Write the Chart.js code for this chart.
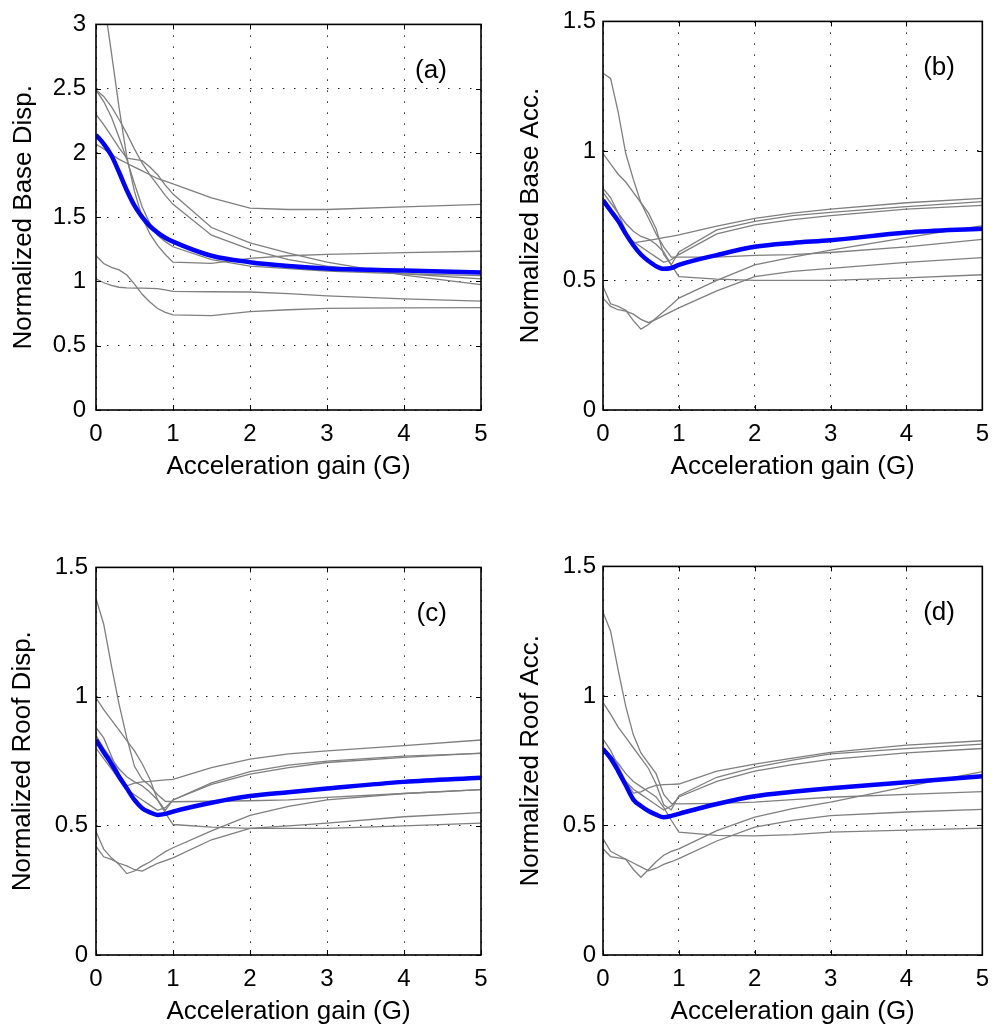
<!DOCTYPE html>
<html>
<head>
<meta charset="utf-8">
<script src="https://cdn.jsdelivr.net/npm/chart.js@4.4.1/dist/chart.umd.min.js"></script>
<style>
  html, body { margin:0; padding:0; background:#fff; }
  body { width:999px; height:1030px; position:relative; overflow:hidden; }
  canvas { position:absolute; }
</style>
</head>
<body>
<canvas id="chartA" width="500" height="500" style="left:0px;top:0px"></canvas>
<canvas id="chartB" width="494" height="500" style="left:505px;top:0px"></canvas>
<canvas id="chartC" width="500" height="485" style="left:0px;top:545px"></canvas>
<canvas id="chartD" width="494" height="485" style="left:505px;top:545px"></canvas>
<script>
// acceleration gain G (x axis, shared by all panels)
const gain = [0, 0.1, 0.2, 0.3, 0.4, 0.5, 0.6, 0.7, 0.8, 0.9, 1, 1.5, 2, 2.5, 3, 4, 5];
const xTicks = [0, 1, 2, 3, 4, 5];

// (a) normalized base displacement
const baseDispMean = [2.14, 2.07, 1.98, 1.85, 1.71, 1.59, 1.50, 1.43, 1.38, 1.34, 1.31, 1.20, 1.15, 1.12, 1.10, 1.085, 1.07];
const baseDispRuns = [
  [3.60, 3.20, 2.78, 2.35, 1.97, 1.70, 1.50, 1.37, 1.28, 1.21, 1.15, 1.14, 1.18, 1.20, 1.21, 1.225, 1.235],
  [2.07, 2.03, 1.99, 1.95, 1.92, 1.89, 1.86, 1.83, 1.80, 1.78, 1.76, 1.65, 1.57, 1.56, 1.56, 1.58, 1.60],
  [2.30, 2.22, 2.13, 2.04, 1.96, 1.95, 1.94, 1.89, 1.83, 1.75, 1.68, 1.42, 1.30, 1.22, 1.15, 1.05, 0.975],
  [2.49, 2.44, 2.36, 2.26, 2.15, 2.03, 1.92, 1.83, 1.75, 1.67, 1.60, 1.36, 1.25, 1.17, 1.12, 1.06, 1.02],
  [2.49, 2.40, 2.28, 2.12, 1.95, 1.76, 1.58, 1.45, 1.36, 1.31, 1.27, 1.17, 1.12, 1.10, 1.08, 1.06, 1.045],
  [1.20, 1.14, 1.11, 1.09, 1.05, 0.98, 0.90, 0.84, 0.79, 0.76, 0.74, 0.735, 0.765, 0.78, 0.79, 0.795, 0.796],
  [1.02, 0.99, 0.97, 0.955, 0.95, 0.948, 0.948, 0.946, 0.944, 0.935, 0.923, 0.92, 0.918, 0.905, 0.888, 0.865, 0.847]
];

// (b) normalized base acceleration
const baseAccMean = [0.81, 0.77, 0.73, 0.68, 0.636, 0.60, 0.575, 0.555, 0.545, 0.548, 0.56, 0.598, 0.63, 0.645, 0.655, 0.685, 0.70];
const baseAccRuns = [
  [1.30, 1.28, 1.15, 0.99, 0.89, 0.80, 0.74, 0.68, 0.63, 0.59, 0.59, 0.59, 0.597, 0.60, 0.608, 0.63, 0.659],
  [0.99, 0.95, 0.91, 0.88, 0.84, 0.80, 0.76, 0.70, 0.60, 0.56, 0.61, 0.695, 0.728, 0.75, 0.763, 0.785, 0.804],
  [0.855, 0.82, 0.76, 0.69, 0.645, 0.65, 0.655, 0.66, 0.665, 0.67, 0.676, 0.71, 0.74, 0.76, 0.775, 0.80, 0.817],
  [0.84, 0.80, 0.76, 0.72, 0.69, 0.67, 0.66, 0.64, 0.61, 0.56, 0.515, 0.505, 0.50, 0.50, 0.50, 0.51, 0.522],
  [0.80, 0.76, 0.72, 0.68, 0.65, 0.63, 0.61, 0.59, 0.57, 0.58, 0.60, 0.68, 0.715, 0.735, 0.75, 0.775, 0.79],
  [0.477, 0.41, 0.40, 0.385, 0.345, 0.312, 0.33, 0.355, 0.38, 0.405, 0.432, 0.50, 0.56, 0.59, 0.617, 0.665, 0.712],
  [0.432, 0.40, 0.387, 0.382, 0.37, 0.35, 0.337, 0.35, 0.365, 0.38, 0.394, 0.46, 0.515, 0.535, 0.547, 0.57, 0.588]
];

// (c) normalized roof displacement
const roofDispMean = [0.832, 0.785, 0.74, 0.69, 0.645, 0.60, 0.568, 0.552, 0.542, 0.546, 0.555, 0.589, 0.615, 0.63, 0.644, 0.67, 0.686];
const roofDispRuns = [
  [1.38, 1.28, 1.12, 0.97, 0.84, 0.73, 0.68, 0.655, 0.62, 0.595, 0.593, 0.595, 0.597, 0.60, 0.61, 0.625, 0.64],
  [0.995, 0.95, 0.91, 0.87, 0.83, 0.79, 0.74, 0.68, 0.60, 0.56, 0.60, 0.666, 0.71, 0.735, 0.75, 0.77, 0.78],
  [0.88, 0.84, 0.77, 0.70, 0.655, 0.665, 0.67, 0.672, 0.675, 0.678, 0.68, 0.725, 0.758, 0.778, 0.79, 0.81, 0.832],
  [0.85, 0.80, 0.76, 0.72, 0.69, 0.67, 0.655, 0.63, 0.60, 0.55, 0.505, 0.495, 0.49, 0.49, 0.49, 0.50, 0.51],
  [0.80, 0.76, 0.72, 0.68, 0.64, 0.62, 0.60, 0.58, 0.56, 0.57, 0.60, 0.66, 0.70, 0.725, 0.745, 0.765, 0.781],
  [0.478, 0.41, 0.376, 0.35, 0.315, 0.325, 0.345, 0.36, 0.38, 0.40, 0.415, 0.48, 0.54, 0.575, 0.60, 0.625, 0.64],
  [0.42, 0.38, 0.37, 0.355, 0.345, 0.33, 0.325, 0.34, 0.355, 0.365, 0.376, 0.446, 0.49, 0.50, 0.51, 0.535, 0.551]
];

// (d) normalized roof acceleration
const roofAccMean = [0.795, 0.76, 0.71, 0.655, 0.60, 0.575, 0.556, 0.542, 0.532, 0.537, 0.545, 0.583, 0.613, 0.63, 0.644, 0.667, 0.69];
const roofAccRuns = [
  [1.323, 1.25, 1.10, 0.96, 0.85, 0.78, 0.74, 0.70, 0.62, 0.585, 0.583, 0.585, 0.59, 0.60, 0.609, 0.62, 0.631],
  [0.974, 0.93, 0.88, 0.84, 0.80, 0.76, 0.72, 0.66, 0.58, 0.56, 0.615, 0.686, 0.724, 0.752, 0.776, 0.797, 0.814],
  [0.833, 0.79, 0.73, 0.67, 0.625, 0.63, 0.645, 0.655, 0.658, 0.659, 0.66, 0.71, 0.737, 0.76, 0.782, 0.81, 0.827],
  [0.80, 0.77, 0.74, 0.70, 0.67, 0.65, 0.63, 0.61, 0.57, 0.52, 0.474, 0.462, 0.46, 0.465, 0.474, 0.482, 0.49],
  [0.79, 0.75, 0.71, 0.67, 0.64, 0.62, 0.60, 0.58, 0.56, 0.575, 0.61, 0.67, 0.71, 0.735, 0.755, 0.78, 0.797],
  [0.449, 0.40, 0.385, 0.37, 0.33, 0.30, 0.33, 0.36, 0.385, 0.40, 0.41, 0.48, 0.532, 0.565, 0.59, 0.65, 0.708],
  [0.41, 0.38, 0.375, 0.37, 0.355, 0.34, 0.325, 0.335, 0.35, 0.36, 0.372, 0.44, 0.494, 0.52, 0.538, 0.552, 0.562]
];

const FONT = '"Liberation Sans", Arial, Helvetica, sans-serif';
Chart.defaults.font.family = FONT;
Chart.defaults.color = '#000';

// matlab-ish box: frame, inward ticks, panel tag
const framePlugin = {
  id: 'frame',
  afterDraw(chart, args, opts) {
    const { ctx, chartArea: a, scales: { x, y } } = chart;
    const len = 5;
    ctx.save();
    ctx.strokeStyle = '#000';
    ctx.lineWidth = 1;
    ctx.beginPath();
    x.ticks.forEach(t => {
      const px = Math.round(x.getPixelForValue(t.value)) + 0.5;
      ctx.moveTo(px, a.bottom); ctx.lineTo(px, a.bottom - len);
      ctx.moveTo(px, a.top);    ctx.lineTo(px, a.top + len);
    });
    y.ticks.forEach(t => {
      const py = Math.round(y.getPixelForValue(t.value)) + 0.5;
      ctx.moveTo(a.left, py);  ctx.lineTo(a.left + len, py);
      ctx.moveTo(a.right, py); ctx.lineTo(a.right - len, py);
    });
    ctx.stroke();
    ctx.lineWidth = 1.6;
    ctx.strokeRect(a.left, a.top, a.right - a.left, a.bottom - a.top);
    ctx.fillStyle = '#000';
    ctx.font = '26px ' + FONT;
    ctx.textAlign = 'center';
    ctx.textBaseline = 'middle';
    ctx.fillText(opts.tag, x.getPixelForValue(opts.tagX), a.top + opts.tagDy);
    ctx.restore();
  }
};

const panels = [
  { canvasId:'chartA', yLabel:'Normalized Base Disp.', yMax:3,   mean:baseDispMean, runs:baseDispRuns,
    tag:'(a)', tagX:4.35, yWidth:96, xHeight:90, padRight:19, yTickPad:10, yTitlePad:8,  xTitlePad:18 },
  { canvasId:'chartB', yLabel:'Normalized Base Acc.',  yMax:1.5, mean:baseAccMean,  runs:baseAccRuns,
    tag:'(b)', tagX:4.43, yWidth:98, xHeight:90, padRight:11, yTickPad:7,  yTitlePad:10, xTitlePad:18 },
  { canvasId:'chartC', yLabel:'Normalized Roof Disp.', yMax:1.5, mean:roofDispMean, runs:roofDispRuns,
    tag:'(c)', tagX:4.36, yWidth:96, xHeight:75, padRight:19, yTickPad:8,  yTitlePad:7,  xTitlePad:3 },
  { canvasId:'chartD', yLabel:'Normalized Roof Acc.',  yMax:1.5, mean:roofAccMean,  runs:roofAccRuns,
    tag:'(d)', tagX:4.43, yWidth:98, xHeight:75, padRight:11, yTickPad:7,  yTitlePad:10, xTitlePad:3 }
];

const toPts = arr => gain.map((g, i) => ({ x: g, y: arr[i] }));

panels.forEach(cfg => {
  const ctx = document.getElementById(cfg.canvasId).getContext('2d');
  const datasets = [{
    data: toPts(cfg.mean), borderColor:'#0000ff', borderWidth:4.5,
    pointRadius:0, cubicInterpolationMode:'monotone'
  }];
  cfg.runs.forEach(r => datasets.push({
    data: toPts(r), borderColor:'#7f7f7f', borderWidth:1.3, pointRadius:0, tension:0
  }));

  new Chart(ctx, {
    type: 'line',
    data: { datasets },
    plugins: [framePlugin],
    options: {
      responsive: false,
      animation: false,
      events: [],
      layout: { padding: { top:18, right:cfg.padRight, bottom:0, left:0 } },
      plugins: {
        legend: { display:false },
        tooltip: { enabled:false },
        frame: { tag:cfg.tag, tagX:cfg.tagX, tagDy:46 }
      },
      scales: {
        x: {
          type: 'linear', min:0, max:5,
          afterBuildTicks: s => { s.ticks = xTicks.map(v => ({ value:v })); },
          afterFit: s => { s.height = cfg.xHeight; },
          grid: { color:'#222', lineWidth:1, drawTicks:false },
          border: { display:false, dash:[1.5, 9.5] },
          ticks: { padding:10, font:{ size:24 }, callback: v => String(v) },
          title: { display:true, text:'Acceleration gain (G)', font:{ size:26 },
                   padding:{ top:0, bottom:cfg.xTitlePad } }
        },
        y: {
          min:0, max:cfg.yMax,
          ticks: { stepSize:0.5, padding:cfg.yTickPad, font:{ size:24 }, callback: v => String(v) },
          afterFit: s => { s.width = cfg.yWidth; },
          grid: { color:'#222', lineWidth:1, drawTicks:false },
          border: { display:false, dash:[1.5, 9.5] },
          title: { display:true, text:cfg.yLabel, font:{ size:26 },
                   padding:{ top:cfg.yTitlePad, bottom:0 } }
        }
      }
    }
  });
});
</script>
</body>
</html>
